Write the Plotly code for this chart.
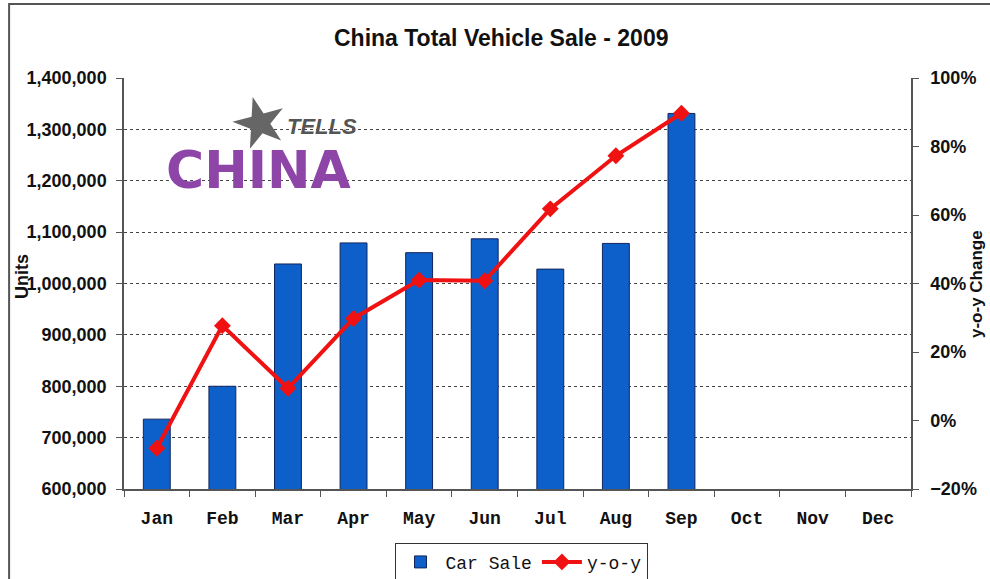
import plotly.graph_objects as go

# Monthly totals for 2009 (units) and year-over-year change
months = ["Jan", "Feb", "Mar", "Apr", "May", "Jun", "Jul", "Aug", "Sep", "Oct", "Nov", "Dec"]
car_sale = [736000, 800000, 1038000, 1079000, 1060000, 1087000, 1028000, 1078000, 1331000, None, None, None]
yoy_change = [-0.081, 0.277, 0.094, 0.298, 0.410, 0.408, 0.618, 0.773, 0.897, None, None, None]

left_ticks = list(range(600000, 1400001, 100000))
right_ticks = [-0.2, 0.0, 0.2, 0.4, 0.6, 0.8, 1.0]

BAR_BLUE = "#0d5fc9"
LINE_RED = "#f01212"
AXIS_GRAY = "#555555"

fig = go.Figure()

fig.add_trace(go.Bar(
    x=months, y=car_sale, name="Car Sale",
    marker=dict(color=BAR_BLUE, line=dict(color="#13265c", width=1)),
    yaxis="y",
))

fig.add_trace(go.Scatter(
    x=months, y=yoy_change, name="y-o-y",
    mode="lines+markers",
    line=dict(color=LINE_RED, width=4),
    marker=dict(symbol="diamond", size=13, color=LINE_RED),
    yaxis="y2",
))

tick_font = dict(family="Liberation Sans, Arial, sans-serif", size=18, color="#111111")

fig.update_layout(
    width=990, height=579,
    margin=dict(l=124, r=79, t=78, b=90),
    paper_bgcolor="white", plot_bgcolor="white",
    bargap=0.59,
    showlegend=True,
    legend=dict(
        orientation="h", x=521, y=0.029, xref="container", yref="container",
        xanchor="center", yanchor="middle",
        font=dict(family="Liberation Mono, Courier New, monospace", size=18, color="#111111"),
        bordercolor="#333333", borderwidth=1, bgcolor="white",
        itemwidth=40, tracegroupgap=0,
    ),
    xaxis=dict(
        type="category", categoryorder="array", categoryarray=months,
        range=[-0.5, 11.5],
        showline=True, linecolor=AXIS_GRAY, linewidth=1.5,
        ticks="outside", tickson="boundaries", ticklen=6, tickcolor=AXIS_GRAY,
        tickfont=dict(family="Liberation Mono, Courier New, monospace", size=18, color="#111111", weight="bold"),
        ticklabelstandoff=12,
        showgrid=False, zeroline=False,
    ),
    yaxis=dict(
        range=[600000, 1400000], tickvals=left_ticks, tickformat=",",
        showline=True, linecolor=AXIS_GRAY, linewidth=1.5,
        ticks="outside", ticklen=6, tickcolor=AXIS_GRAY,
        tickfont=dict(weight="bold", **tick_font),
        ticklabelstandoff=6,
        showgrid=True, gridcolor="#444444", gridwidth=1, griddash="3px,3px",
        zeroline=False,
    ),
    yaxis2=dict(
        overlaying="y", side="right",
        range=[-0.2, 1.0], tickvals=right_ticks, tickformat=".0%",
        showline=True, linecolor=AXIS_GRAY, linewidth=1.5,
        ticks="outside", ticklen=6, tickcolor=AXIS_GRAY,
        tickfont=dict(weight="bold", **tick_font),
        ticklabelstandoff=8,
        showgrid=False, zeroline=False,
    ),
)
# legend x in container coords must be a fraction
fig.update_layout(legend_x=521 / 990)

annotations = [
    # chart title
    dict(text="<b>China Total Vehicle Sale - 2009</b>", x=0.48, y=1.097, xref="paper", yref="paper",
         xanchor="center", yanchor="middle", showarrow=False,
         font=dict(family="Liberation Sans, Arial, sans-serif", size=23, color="#111111")),
    # axis titles
    dict(text="<b>Units</b>", x=-0.1296, y=0.516, xref="paper", yref="paper", textangle=-90,
         xanchor="center", yanchor="middle", showarrow=False,
         font=dict(family="Liberation Sans, Arial, sans-serif", size=18, color="#111111")),
    dict(text="<b>y-o-y Change</b>", x=1.084, y=0.499, xref="paper", yref="paper", textangle=-90,
         xanchor="center", yanchor="middle", showarrow=False,
         font=dict(family="Liberation Sans, Arial, sans-serif", size=17, color="#111111")),
    # logo
    dict(text="★", x=0.1728, y=0.893, xref="paper", yref="paper", textangle=-15,
         xanchor="center", yanchor="middle", showarrow=False,
         font=dict(family="DejaVu Sans", size=68, color="#666666")),
    dict(text="<b><i>TELLS</i></b>", x=0.251, y=0.881, xref="paper", yref="paper",
         xanchor="center", yanchor="middle", showarrow=False,
         font=dict(family="Liberation Sans Narrow, Liberation Sans, sans-serif", size=22, color="#555555")),
    dict(text="<b>CHINA</b>", x=0.1715, y=0.776, xref="paper", yref="paper",
         xanchor="center", yanchor="middle", showarrow=False,
         font=dict(family="DejaVu Sans", size=52, color="#8d45a8")),
]
fig.update_layout(annotations=annotations)

# outer frame of the chart area
fig.add_shape(type="rect", xref="paper", yref="paper",
              x0=-0.146, x1=1.3, y0=-0.6, y1=1.18,
              line=dict(color="#555555", width=2), fillcolor="rgba(0,0,0,0)", layer="below")

fig.write_html("out.html")
